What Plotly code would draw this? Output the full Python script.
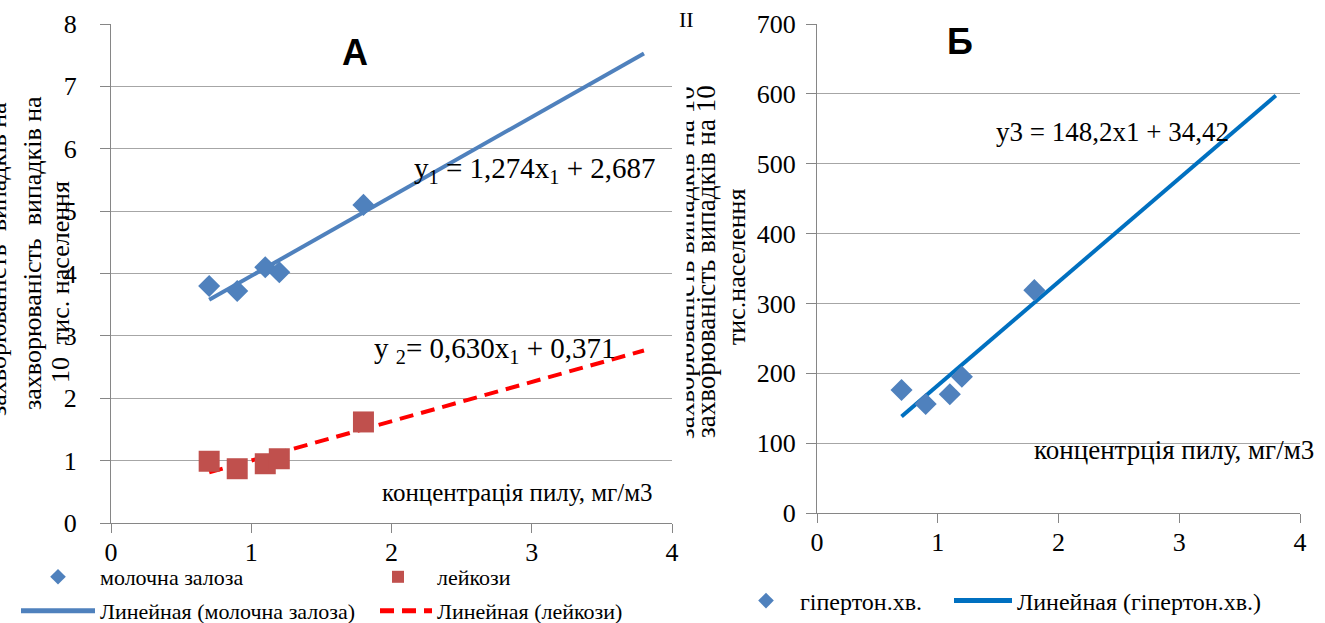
import plotly.graph_objects as go

# ---------------- data ----------------
dust_x = [0.7, 0.9, 1.1, 1.2, 1.8]
breast = [3.8, 3.72, 4.1, 4.02, 5.1]
leukemia = [0.99, 0.87, 0.95, 1.03, 1.62]
hypertension = [176, 156, 170, 195, 319]

trend_x = [0.7, 3.8]
breast_fit = (1.274, 2.687)
leuk_fit = (0.630, 0.371)
hyp_fit = (148.2, 34.42)

x_ticks = [0, 1, 2, 3, 4]
left_y_ticks = [0, 1, 2, 3, 4, 5, 6, 7, 8]
right_y_ticks = [0, 100, 200, 300, 400, 500, 600, 700]

name_breast = "молочна залоза"
name_leuk = "лейкози"
name_breast_lin = "Линейная (молочна залоза)"
name_leuk_lin = "Линейная (лейкози)"
name_hyp = "гіпертон.хв."
name_hyp_lin = "Линейная (гіпертон.хв.)"

# ---------------- geometry helpers ----------------
W, H = 1325, 623
def px(x):
    return x / W
def py(y):
    return 1 - y / H

SERIF = "Liberation Serif, Times New Roman, serif"
SANS = "Liberation Sans, Arial, sans-serif"
BLUE_M = "#4F81BD"
RED_M = "#C0504D"
BLUE_L = "#4F81BD"
BLUE_R = "#0070C0"
RED_L = "#FF0000"
GRID = "#A6A6A6"
AXIS = "#868686"

def line_of(fit):
    a, b = fit
    return [a * x + b for x in trend_x]

fig = go.Figure()

# trend lines first (drawn under markers)
fig.add_trace(go.Scatter(x=trend_x, y=line_of(breast_fit), mode="lines", name=name_breast_lin,
                         line=dict(color=BLUE_L, width=4),
                         xaxis="x", yaxis="y", legend="legend3"))
fig.add_trace(go.Scatter(x=trend_x, y=line_of(leuk_fit), mode="lines", name=name_leuk_lin,
                         line=dict(color=RED_L, width=4, dash="14px,8px"),
                         xaxis="x", yaxis="y", legend="legend4"))
fig.add_trace(go.Scatter(x=trend_x, y=line_of(hyp_fit), mode="lines", name=name_hyp_lin,
                         line=dict(color=BLUE_R, width=4),
                         xaxis="x2", yaxis="y2", legend="legend6"))
# markers
fig.add_trace(go.Scatter(x=dust_x, y=breast, mode="markers", name=name_breast,
                         marker=dict(symbol="diamond", size=17, color=BLUE_M),
                         xaxis="x", yaxis="y", legend="legend"))
fig.add_trace(go.Scatter(x=dust_x, y=leukemia, mode="markers", name=name_leuk,
                         marker=dict(symbol="square", size=21, color=RED_M),
                         xaxis="x", yaxis="y", legend="legend2"))
fig.add_trace(go.Scatter(x=dust_x, y=hypertension, mode="markers", name=name_hyp,
                         marker=dict(symbol="diamond", size=17, color=BLUE_M),
                         xaxis="x2", yaxis="y2", legend="legend5"))

tickfont = dict(family=SERIF, size=26, color="#000000")

def xaxis(dom, anchor):
    return dict(domain=dom, anchor=anchor, range=[0, 4], tickvals=x_ticks,
                showgrid=False, zeroline=False, showline=True, linecolor=AXIS, linewidth=1,
                ticks="outside", ticklen=9, tickcolor=AXIS, tickfont=tickfont,
                ticklabelstandoff=-3, automargin=False, fixedrange=True)

def yaxis(dom, anchor, rng, vals, standoff):
    return dict(domain=dom, anchor=anchor, range=rng, tickvals=vals,
                showgrid=True, gridcolor=GRID, gridwidth=1, zeroline=False,
                showline=True, linecolor=AXIS, linewidth=1,
                ticks="outside", ticklen=10, tickcolor=AXIS, tickfont=tickfont,
                ticklabelstandoff=standoff, automargin=False, fixedrange=True)

def legend_at(x_left, y_mid, itemwidth, size):
    return dict(x=px(x_left), y=py(y_mid), xanchor="left", yanchor="middle",
                orientation="v", itemwidth=itemwidth, itemsizing="constant",
                bgcolor="rgba(0,0,0,0)", borderwidth=0,
                font=dict(family=SERIF, size=size, color="#000000"))

ann = []
def text(x, y, s, size, family=SERIF, anchor="left", angle=0, bold=False):
    ann.append(dict(x=px(x), y=py(y), xref="paper", yref="paper", text=("<b>%s</b>" % s) if bold else s,
                    showarrow=False, xanchor=anchor, yanchor="middle", textangle=angle,
                    font=dict(family=family, size=size, color="#000000"), borderpad=0))

text(355, 52, "А", 36, family=SANS, anchor="center", bold=True)
text(960, 42, "Б", 36, family=SANS, anchor="center", bold=True)
text(413, 170, "y<sub>1</sub> = 1,274x<sub>1</sub> + 2,687", 29)
text(373, 350, "y <sub>2</sub>= 0,630x<sub>1</sub> + 0,371", 29)
text(381, 492, "концентрація пилу, мг/м3", 25)
text(995, 132, "y3 = 148,2x1 + 34,42", 27)
text(1033, 450, "концентрція пилу, мг/м3", 27)

# y-axis titles (left)
text(-3, 259, "захворюваність  випадків на", 26, anchor="center", angle=-90)
text(33, 253, "захворюваність  випадків на", 26, anchor="center", angle=-90)
text(60, 282, "10  тис. населення", 26, anchor="center", angle=-90)
# y-axis titles (right)
text(685, 263, "захворюваність випадків на 10", 27, anchor="center", angle=-90)
ann.append(dict(x=px(679.5), y=py(262), xref="paper", yref="paper", text=" ", showarrow=False,
                xanchor="center", yanchor="middle", width=13, height=400, bgcolor="#FFFFFF", borderpad=0))
text(706, 262, "захворюваність випадків на 10", 27, anchor="center", angle=-90)
text(736, 267, "тис.населення", 26, anchor="center", angle=-90)
text(686, 20, "II", 22, anchor="center")

fig.update_layout(
    width=W, height=H,
    margin=dict(l=0, r=0, t=0, b=0, autoexpand=False),
    paper_bgcolor="white", plot_bgcolor="white",
    xaxis=xaxis([px(111), px(672)], "y"),
    yaxis=yaxis([py(523), py(24)], "x", [0, 8], left_y_ticks, 18),
    xaxis2=xaxis([px(817), px(1300)], "y2"),
    yaxis2=yaxis([py(513), py(24)], "x2", [0, 700], right_y_ticks, 5),
    legend=legend_at(16, 577, 74, 22),
    legend2=legend_at(359, 577, 68, 22),
    legend3=legend_at(16, 611, 74, 22),
    legend4=legend_at(375, 611, 52, 22),
    legend5=legend_at(732, 601, 58, 24),
    legend6=legend_at(949, 601, 58, 24),
    annotations=ann,
    showlegend=True,
    hovermode=False,
)

fig.write_html("out.html", config={"displayModeBar": False, "staticPlot": True},
               post_script="document.body.style.margin='0';")
